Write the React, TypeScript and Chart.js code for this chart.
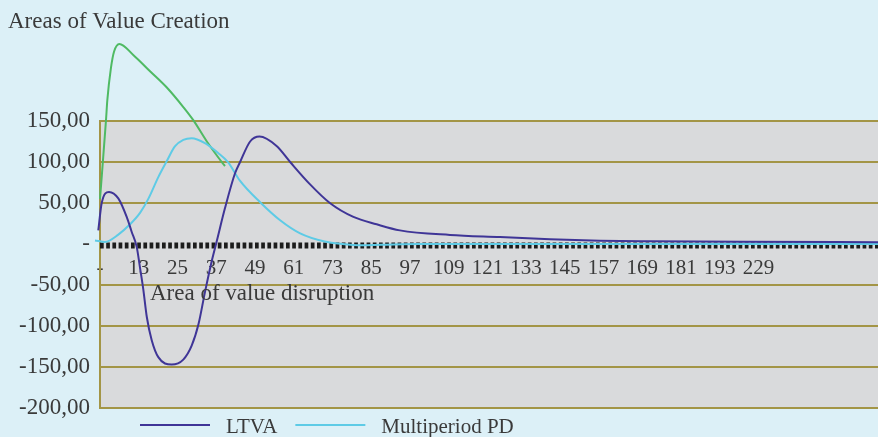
import { useEffect, useRef } from 'react';
import { Chart, registerables } from 'chart.js';

Chart.register(...registerables);

// ---- Data ----
const xTickValues = [1, 13, 25, 37, 49, 61, 73, 85, 97, 109, 121, 133, 145, 157, 169, 181, 193, 205];
const xTickLabels = ['-', '13', '25', '37', '49', '61', '73', '85', '97', '109', '121', '133', '145', '157', '169', '181', '193', '229'];
const yTickValues = [-200, -150, -100, -50, 0, 50, 100, 150];
const yTickLabels = ['-200,00', '-150,00', '-100,00', '-50,00', '-', '50,00', '100,00', '150,00'];

const ltvaLabel = 'LTVA';
const ltvaX = [0.47, 1.53, 3.79, 6.67, 9.27, 10.8, 12.37, 13.4, 14.4, 15.5, 17, 19.06, 23.2, 26.8, 29.4, 31.5, 33.5, 35.6, 37.2, 39.7, 42.8, 44.4, 47.5, 50.4, 55.7, 59.9, 66, 72.2, 79.5, 86.7, 93.9, 109.4, 124.9, 140.4, 155.9, 171.4, 200, 242];
const ltvaY = [16.6, 50, 63.5, 55.6, 33, 15, -3.5, -29, -55, -89, -117, -138, -147, -141, -124, -98, -59, -21, 4, 43.5, 86, 100, 125, 131, 119.5, 100, 73, 50, 33, 24, 16.6, 11, 8.4, 5.8, 4, 3.3, 2.6, 2.2];

const pdLabel = 'Multiperiod PD';
const pdX = [-0.55, 2.55, 6.67, 10.3, 13.4, 15.96, 19.06, 21.66, 24.2, 26.8, 29.4, 33.5, 37.6, 40.7, 44.4, 50.6, 56.8, 63, 70.6, 76, 82, 88, 100, 242];
const pdY = [4.3, 2.5, 11.4, 24, 38, 55, 81.6, 101, 119, 127, 129, 123, 111, 99.6, 77, 51, 29, 13, 3, 0, -1.5, -1, 0, 0];

const greenLabel = '';
const greenX = [1, 2.86, 3.26, 4.4, 5.34, 7.0, 11.3, 16.5, 21.7, 26.8, 29.9, 34.1, 38.7, 39.7];
const greenY = [55, 151, 175, 215, 234.5, 244, 230.6, 210.7, 190.8, 167, 151, 125, 100, 95];

const chartTitle = 'Areas of Value Creation';
const disruptionLabel = 'Area of value disruption';

// ---- Styles ----
const BG = '#dcf0f7';
const PLOT_BG = '#d9dadc';
const OLIVE = '#a39546';
const TEXT = '#3a3a3a';
const FONT = '"Liberation Serif", "Times New Roman", serif';
const C_LTVA = '#3f3597';
const C_PD = '#5ecbe6';
const C_GREEN = '#4fba63';

const toPoints = (xs: number[], ys: number[]) => xs.map((x, i) => ({ x, y: ys[i] }));

const decorPlugin = {
  id: 'decor',
  beforeDraw(chart: any) {
    const { ctx, chartArea } = chart;
    ctx.save();
    ctx.fillStyle = BG;
    ctx.fillRect(0, 0, chart.width, chart.height);
    ctx.fillStyle = PLOT_BG;
    ctx.fillRect(chartArea.left, chartArea.top, chartArea.right - chartArea.left, chartArea.bottom - chartArea.top);
    ctx.restore();
  },
  beforeDatasetsDraw(chart: any) {
    const { ctx, chartArea } = chart;
    const y0 = chart.scales.y.getPixelForValue(0);
    ctx.save();
    ctx.strokeStyle = '#1c1c1c';
    ctx.lineWidth = 6;
    ctx.setLineDash([3.7, 2.5]);
    ctx.beginPath();
    ctx.moveTo(chartArea.left, y0 + 1.5);
    ctx.lineTo(chartArea.right, y0 + 1.5);
    ctx.stroke();
    ctx.restore();
  },
  afterDraw(chart: any) {
    const { ctx, chartArea } = chart;
    const yScale = chart.scales.y;
    ctx.save();
    ctx.fillStyle = TEXT;
    ctx.textBaseline = 'alphabetic';
    ctx.textAlign = 'left';
    ctx.font = `23px ${FONT}`;
    ctx.fillText(chartTitle, 8, 28);
    ctx.fillText(disruptionLabel, chartArea.left + 50, yScale.getPixelForValue(-50) + 15);

    // legend
    ctx.font = `21px ${FONT}`;
    let x = 140;
    const lineY = 425;
    chart.data.datasets.forEach((ds: any) => {
      if (!ds.label) return;
      ctx.strokeStyle = ds.borderColor;
      ctx.lineWidth = 2;
      ctx.beginPath();
      ctx.moveTo(x, lineY);
      ctx.lineTo(x + 70, lineY);
      ctx.stroke();
      x += 86;
      ctx.fillStyle = TEXT;
      ctx.fillText(ds.label, x, 433);
      x += ctx.measureText(ds.label).width + 18;
    });
    ctx.restore();
  },
};

export default function App() {
  const ref = useRef<HTMLCanvasElement | null>(null);

  useEffect(() => {
    if (!ref.current) return;
    const common = {
      borderWidth: 2,
      pointRadius: 0,
      fill: false,
      cubicInterpolationMode: 'monotone' as const,
      clip: false as any,
    };
    const chart = new Chart(ref.current, {
      type: 'line',
      data: {
        datasets: [
          { ...common, label: ltvaLabel, data: toPoints(ltvaX, ltvaY), borderColor: C_LTVA, backgroundColor: C_LTVA },
          { ...common, label: pdLabel, data: toPoints(pdX, pdY), borderColor: C_PD, backgroundColor: C_PD },
          { ...common, label: greenLabel, data: toPoints(greenX, greenY), borderColor: C_GREEN, backgroundColor: C_GREEN },
        ],
      },
      options: {
        animation: false,
        responsive: true,
        maintainAspectRatio: false,
        layout: { padding: { top: 121, bottom: 29, left: 0, right: 0 } },
        plugins: { legend: { display: false }, tooltip: { enabled: false }, title: { display: false } },
        scales: {
          x: {
            type: 'linear',
            min: 1,
            max: 242,
            position: { y: 0 } as any,
            afterBuildTicks: (ax: any) => {
              ax.ticks = xTickValues.map((v) => ({ value: v }));
            },
            afterFit: (s: any) => {
              s.height = 0;
            },
            ticks: {
              autoSkip: false,
              maxRotation: 0,
              padding: 12,
              color: TEXT,
              font: { family: FONT, size: 21 },
              callback: (_v: any, i: number) => xTickLabels[i],
            },
            grid: { display: false, drawTicks: false },
            border: { display: false },
          },
          y: {
            type: 'linear',
            min: -200,
            max: 150,
            afterBuildTicks: (ax: any) => {
              ax.ticks = yTickValues.map((v) => ({ value: v }));
            },
            afterFit: (s: any) => {
              s.width = 100;
            },
            ticks: {
              padding: 10,
              color: TEXT,
              font: { family: FONT, size: 23 },
              callback: (_v: any, i: number) => yTickLabels[i],
            },
            grid: {
              drawTicks: false,
              lineWidth: 2,
              color: (c: any) => (c.tick && c.tick.value === 0 ? 'rgba(0,0,0,0)' : OLIVE),
            },
            border: { color: OLIVE, width: 2 },
          },
        },
      },
      plugins: [decorPlugin],
    });
    return () => chart.destroy();
  }, []);

  return (
    <div style={{ position: 'absolute', left: 0, top: 0, width: 878, height: 437, background: BG }}>
      <canvas ref={ref} />
    </div>
  );
}
